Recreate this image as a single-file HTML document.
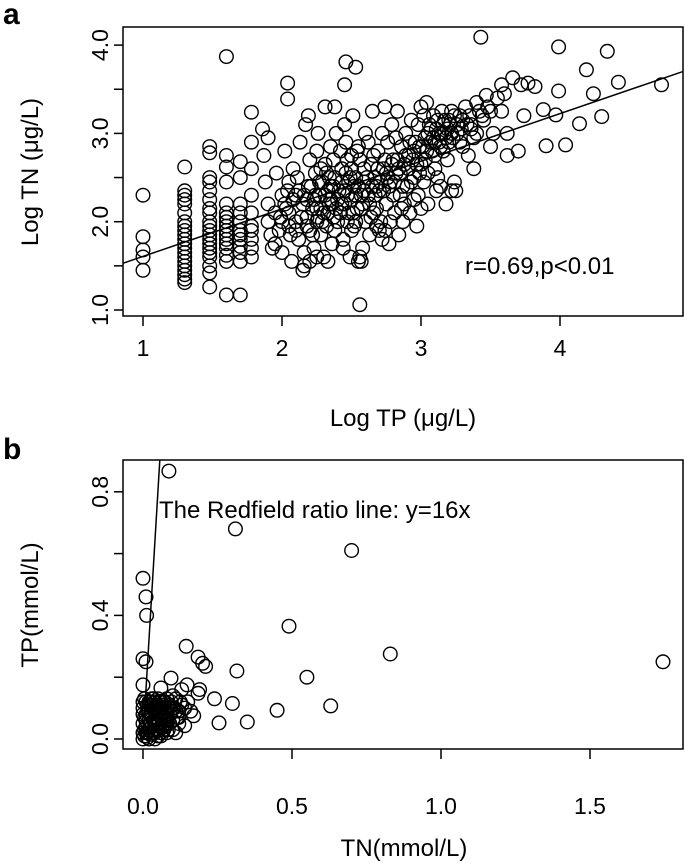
<!DOCTYPE html>
<html><head><meta charset="utf-8"><style>
html,body{margin:0;padding:0;background:#fff}
svg{display:block;font-family:"Liberation Sans",Arial,sans-serif}
</style></head><body>
<svg id="chart" width="685" height="868" viewBox="0 0 685 868">
<text x="3" y="24" font-size="30" font-weight="bold">a</text>
<text x="3" y="459" font-size="30" font-weight="bold">b</text>
<g id="pa"></g>
<g id="pb"></g>
<text x="465" y="274" font-size="24">r=0.69,p&lt;0.01</text>
<text x="403" y="426" font-size="24" text-anchor="middle">Log TP (μg/L)</text>
<text transform="translate(38,172) rotate(-90)" font-size="24" text-anchor="middle">Log TN (μg/L)</text>
<text x="159" y="518" font-size="24">The Redfield ratio line: y=16x</text>
<text x="404" y="856" font-size="24" text-anchor="middle">TN(mmol/L)</text>
<text transform="translate(38,605) rotate(-90)" font-size="24" text-anchor="middle">TP(mmol/L)</text>
</svg>
<script>
const aXTicks=[1,2,3,4];
const aXTickLabels=["1","2","3","4"];
const aYTicks=[1,1.5,2,2.5,3,3.5,4];
const aYTickLabels=["1.0","","2.0","","3.0","","4.0"];
const aFit=[1.068,0.539];
const aPoints=[[1,2.30],[1,1.83],[1,1.68],[1,1.60],[1,1.45],
[1.3,2.62],[1.3,2.35],[1.3,2.30],[1.3,2.25],[1.3,2.2],[1.3,2.1],[1.3,2.0],[1.3,1.95],[1.3,1.9],[1.3,1.85],[1.3,1.8],[1.3,1.75],[1.3,1.7],[1.3,1.65],[1.3,1.6],[1.3,1.55],[1.3,1.5],[1.3,1.45],[1.3,1.4],[1.3,1.35],[1.3,1.31],
[1.48,2.85],[1.48,2.78],[1.48,2.5],[1.48,2.45],[1.48,2.35],[1.48,2.25],[1.48,2.15],[1.48,2.1],[1.48,2.0],[1.48,1.95],[1.48,1.9],[1.48,1.85],[1.48,1.8],[1.48,1.75],[1.48,1.7],[1.48,1.65],[1.48,1.6],[1.48,1.5],[1.48,1.42],[1.48,1.26],
[1.6,3.87],[1.6,2.75],[1.6,2.62],[1.6,2.45],[1.6,2.2],[1.6,2.1],[1.6,2.05],[1.6,2.0],[1.6,1.95],[1.6,1.9],[1.6,1.85],[1.6,1.8],[1.6,1.75],[1.6,1.7],[1.6,1.62],[1.6,1.55],[1.6,1.17],
[1.7,2.68],[1.7,2.5],[1.7,2.2],[1.7,2.1],[1.7,2.0],[1.7,1.9],[1.7,1.85],[1.7,1.8],[1.7,1.72],[1.7,1.65],[1.7,1.55],[1.7,1.17],
[1.78,3.24],[1.78,2.9],[1.78,2.6],[1.78,2.3],[1.78,2.1],[1.78,1.95],[1.78,1.9],[1.78,1.8],[1.78,1.7],[1.78,1.6],
[1.87,2.75],[1.88,2.45],[1.9,2.2],[1.9,2.0],[1.92,1.85],[1.93,1.7],[1.95,2.1],[1.96,2.55],[1.98,1.9],[2.0,2.3],[2.0,1.65],[1.86,3.05],[1.9,2.95],[1.95,1.75],[1.99,2.05],
[2.02,2.8],[2.03,2.15],[2.05,1.95],[2.05,2.45],[2.07,1.55],[2.08,2.6],[2.1,2.0],[2.1,2.3],[2.12,1.8],[2.13,2.9],[2.04,3.57],[2.04,3.39],[2.15,2.2],[2.16,1.65],[2.17,3.1],[2.18,2.05],[2.19,2.4],[2.2,1.9],[2.2,2.7],[2.04,2.35],[2.06,1.85],[2.11,2.5],[2.15,1.45],[2.16,1.5],[2.18,2.25],[2.19,3.2],
[2.22,2.15],[2.23,1.7],[2.24,2.55],[2.25,2.0],[2.26,3.0],[2.27,2.3],[2.28,1.85],[2.29,2.45],[2.3,2.1],[2.31,3.3],[2.31,2.65],[2.32,1.95],[2.33,2.35],[2.34,2.2],[2.35,2.85],[2.36,1.75],[2.37,2.05],[2.38,2.5],[2.39,3.0],[2.4,2.25],[2.25,2.8],[2.28,2.15],[2.3,1.6],[2.33,1.55],[2.35,2.4],[2.37,2.7],[2.38,1.9],[2.4,2.0],[2.24,2.3],[2.26,2.05],[2.32,2.55],[2.36,2.2],[2.2,1.55],[2.25,1.6],[2.38,3.3],[2.46,3.81],[2.53,3.75],[2.45,3.55],
[2.42,2.1],[2.43,2.6],[2.44,1.8],[2.45,2.35],[2.46,2.9],[2.47,2.0],[2.48,2.45],[2.49,1.6],[2.5,2.25],[2.5,2.75],[2.51,3.2],[2.52,1.95],[2.53,2.5],[2.54,2.15],[2.55,1.55],[2.55,2.85],[2.56,1.06],[2.57,2.3],[2.58,1.7],[2.59,2.6],[2.6,2.0],[2.6,3.0],[2.43,2.2],[2.45,3.1],[2.47,2.7],[2.5,1.9],[2.52,2.4],[2.54,2.8],[2.56,1.6],[2.57,1.55],[2.58,2.2],[2.59,2.45],[2.44,1.7],[2.48,2.1],[2.53,2.0],[2.46,2.55],
[2.62,2.3],[2.63,1.85],[2.64,2.65],[2.65,3.25],[2.66,2.1],[2.67,2.5],[2.68,1.95],[2.69,2.8],[2.7,2.35],[2.71,2.0],[2.72,3.0],[2.73,2.6],[2.74,1.9],[2.75,2.2],[2.76,2.9],[2.77,1.75],[2.78,2.45],[2.79,3.1],[2.8,2.7],[2.81,2.1],[2.82,2.55],[2.83,3.25],[2.84,1.85],[2.85,2.3],[2.86,2.85],[2.87,2.0],[2.88,2.65],[2.89,3.0],[2.9,2.4],[2.64,2.05],[2.68,2.4],[2.72,1.8],[2.76,2.5],[2.8,2.3],[2.84,2.6],[2.88,2.2],[2.66,2.75],[2.7,1.9],[2.74,3.3],[2.78,2.0],
[2.91,2.75],[2.92,2.1],[2.93,3.15],[2.95,2.5],[2.96,2.9],[2.97,1.95],[2.98,2.3],[3.0,3.3],[3.0,2.65],[3.02,2.45],[3.03,2.95],[3.05,2.2],[3.06,3.1],[3.08,2.8],[3.09,3.2],[3.1,2.6],[3.11,2.35],[3.13,3.0],[3.14,2.85],[3.15,3.25],[3.16,3.1],[3.18,2.95],[3.19,2.7],[3.2,3.15],[3.04,3.35],[3.07,3.05],[3.12,3.15],[3.17,3.0],[3.2,2.9],[2.94,2.7],[2.99,2.85],[3.05,2.55],[3.1,2.9],[2.95,2.25],[3.0,2.15],[3.02,3.2],[3.12,2.5],[3.1,2.75],[3.14,2.4],[3.18,2.2],[3.22,2.35],[3.24,2.45],[3.25,2.35],
[3.22,3.0],[3.24,3.2],[3.26,3.1],[3.28,2.9],[3.3,3.15],[3.32,3.3],[3.34,2.75],[3.36,3.05],[3.38,2.6],[3.4,3.35],[3.42,3.25],[3.44,3.2],[3.47,3.43],[3.48,3.3],[3.5,2.85],[3.52,3.0],[3.55,3.4],[3.58,3.55],[3.6,3.45],[3.43,4.09],[3.36,3.1],[3.3,2.85],[3.28,3.2],[3.45,3.15],[3.5,3.25],[3.38,2.95],
[3.62,3.0],[3.66,3.63],[3.77,3.57],[3.82,3.53],[3.72,3.55],[3.74,3.2],[3.7,2.8],[3.88,3.27],[3.9,2.86],[3.99,3.98],[3.99,3.48],[4.04,2.87],[3.97,3.21],[4.14,3.11],[4.19,3.72],[4.24,3.45],[4.3,3.19],[4.34,3.93],[4.42,3.58],[4.73,3.55],[3.62,2.75],[3.58,3.25],
[2.05,2.1],[2.08,2.25],[2.1,1.9],[2.12,2.35],[2.14,2.05],[2.16,2.3],[2.18,1.95],[2.21,2.4],[2.23,2.25],[2.25,2.15],[2.27,2.45],[2.29,2.0],[2.31,2.3],[2.33,2.1],[2.35,2.25],[2.37,2.4],[2.39,2.15],[2.41,2.35],[2.43,2.45],[2.45,2.2],[2.47,2.3],[2.49,2.5],[2.51,2.1],[2.53,2.3],[2.55,2.4],[2.57,2.15],[2.59,2.35],[2.61,2.5],[2.63,2.2],[2.65,2.4],[2.67,2.3],[2.69,2.6],[2.71,2.45],[2.73,2.35],[2.75,2.55],[2.77,2.4],[2.79,2.65],[2.81,2.45],[2.83,2.7],[2.85,2.55],[2.87,2.4],[2.89,2.75],[2.91,2.6],[2.93,2.45],[2.95,2.8],[2.97,2.65],[2.99,2.55],[3.01,2.85],[3.03,2.7],[3.05,3.0],[3.07,2.9],[3.09,2.95],[3.11,3.05],[3.13,2.9],[3.15,3.0],[3.17,3.15],[3.19,3.05],[3.21,3.1],[3.23,2.95],[3.26,3.0],[3.29,3.05],[3.33,3.1],
[2.0,2.0],[2.02,2.2],[2.22,1.85],[2.28,2.6],[2.34,2.5],[2.42,2.8],[2.5,2.6],[2.56,2.7],[2.62,2.9],[2.68,2.15],[2.74,2.7],[2.82,2.95],[2.86,2.15],[2.92,2.9],[2.98,3.1],[3.04,2.8],[3.16,2.8],[3.22,3.25],[3.35,3.2],[3.4,3.0]];

const bXTicks=[0,0.5,1,1.5];
const bXTickLabels=["0.0","0.5","1.0","1.5"];
const bYTicks=[0,0.2,0.4,0.6,0.8];
const bYTickLabels=["0.0","","0.4","","0.8"];
const bRatio=16;
const bPoints=[[0.087,0.867],[0.31,0.68],[0.70,0.61],[0.0,0.52],[0.01,0.46],[0.012,0.40],[0.49,0.365],[0.145,0.30],[0.185,0.265],[0.20,0.245],[0.21,0.235],[0.83,0.275],[1.745,0.25],[0.0,0.26],[0.01,0.25],[0.315,0.22],[0.55,0.20],[0.24,0.13],[0.30,0.115],[0.45,0.093],[0.63,0.107],[0.35,0.055],[0.255,0.052],[0.17,0.075],[0.14,0.043],[0.094,0.197],[0.148,0.175],[0.19,0.16],[0.185,0.148],[0.13,0.16],[0.06,0.165],[0.0,0.175],
[0.0,0.0],[0.005,0.01],[0.01,0.02],[0.015,0.005],[0.02,0.03],[0.025,0.015],[0.03,0.04],[0.035,0.02],[0.04,0.06],[0.045,0.03],[0.05,0.08],[0.055,0.05],[0.06,0.1],[0.065,0.04],[0.07,0.12],[0.075,0.07],[0.08,0.09],[0.085,0.03],[0.09,0.11],[0.1,0.06],[0.11,0.13],[0.12,0.09],[0.13,0.11],[0.1,0.14],[0.0,0.05],[0.0,0.1],[0.005,0.13],[0.01,0.08],[0.015,0.11],[0.02,0.06],[0.025,0.12],[0.03,0.09],[0.035,0.13],[0.04,0.02],[0.045,0.1],[0.05,0.01],[0.055,0.12],[0.06,0.02],[0.065,0.08],[0.07,0.05],[0.075,0.1],[0.08,0.13],[0.085,0.06],[0.09,0.08],[0.095,0.12],[0.105,0.1],[0.115,0.07],[0.125,0.12],[0.14,0.1],[0.15,0.12],[0.16,0.09],[0.02,0.0],[0.04,0.0],[0.06,0.01],[0.08,0.02],[0.1,0.03],[0.03,0.07],[0.05,0.05],[0.07,0.03],[0.01,0.04],[0.0,0.02],[0.0,0.08],[0.12,0.05],[0.11,0.02],
[0.005,0.03],[0.01,0.06],[0.015,0.09],[0.02,0.12],[0.025,0.05],[0.03,0.11],[0.035,0.06],[0.04,0.1],[0.045,0.07],[0.05,0.11],[0.055,0.03],[0.06,0.07],[0.065,0.11],[0.07,0.09],[0.075,0.04],[0.08,0.06],[0.085,0.11],[0.09,0.05],[0.095,0.09],[0.01,0.12],[0.02,0.09],[0.03,0.02],[0.04,0.12],[0.05,0.03],[0.06,0.12],[0.015,0.02],[0.025,0.08],[0.035,0.1],[0.045,0.05],[0.055,0.09],[0.065,0.06],[0.075,0.12],[0.1,0.1],[0.11,0.09],[0.12,0.07],[0.005,0.07],[0.0,0.12],[0.03,0.13],[0.05,0.13],[0.07,0.07]];

const NS="http://www.w3.org/2000/svg";
function mk(tag,attrs,parent){const e=document.createElementNS(NS,tag);for(const k in attrs)e.setAttribute(k,attrs[k]);parent.appendChild(e);return e;}

function panel(g,cfg){
  const {L,R,T,B,x0,x1,y0,y1}=cfg;
  const sx=v=>L+(v-x0)/(x1-x0)*(R-L);
  const sy=v=>B-(v-y0)/(y1-y0)*(B-T);
  const clip=mk('clipPath',{id:cfg.id+'clip'},g);
  mk('rect',{x:L,y:T,width:R-L,height:B-T},clip);
  const pts=mk('g',{'clip-path':'url(#'+cfg.id+'clip)'},g);
  
  
  cfg.points.forEach(p=>{
    const c=mk('circle',{cx:sx(p[0]).toFixed(1),cy:sy(p[1]).toFixed(1),r:6.8,fill:'none',stroke:'#000','stroke-width':1.4},pts);
    
    
  });
  const ln=mk('line',{x1:sx(cfg.line[0][0]),y1:sy(cfg.line[0][1]),x2:sx(cfg.line[1][0]),y2:sy(cfg.line[1][1]),stroke:'#000','stroke-width':1.5},pts);
  
  
  const box=mk('rect',{x:L,y:T,width:R-L,height:B-T,fill:'none',stroke:'#000','stroke-width':1.5},g);
  
  
  cfg.xt.forEach((v,i)=>{
    const x=sx(v);
    const t=mk('line',{x1:x,y1:B,x2:x,y2:B+10,stroke:'#000','stroke-width':1.5},g);
    
    
    const tx=mk('text',{x:x,y:cfg.xtY,'font-size':23,'text-anchor':'middle'},g);
    tx.textContent=cfg.xl[i];
    
    
  });
  cfg.yt.forEach((v,i)=>{
    const y=sy(v);
    const t=mk('line',{x1:L-9,y1:y,x2:L,y2:y,stroke:'#000','stroke-width':1.5},g);
    
    
    if(cfg.yl[i]){
      const tx=mk('text',{x:0,y:0,'font-size':23,'text-anchor':'middle',transform:'translate(108,'+y+') rotate(-90)'},g);
      tx.textContent=cfg.yl[i];
      
      
    }
  });
}

panel(document.getElementById('pa'),{id:'panel-a',L:123,R:683,T:27,B:316,
  x0:1-20/139,x1:1+540/139,y0:1-6/88.3,y1:1+283/88.3,
  points:aPoints,
  line:[[0.5,aFit[0]+aFit[1]*0.5],[5.5,aFit[0]+aFit[1]*5.5]],
  xt:aXTicks,xl:aXTickLabels,yt:aYTicks,yl:aYTickLabels,xtY:356});
panel(document.getElementById('pb'),{id:'panel-b',L:123,R:683,T:460,B:749,
  x0:-20/298,x1:540/298,y0:-10/309,y1:279/309,
  points:bPoints,
  line:[[0,0],[1,bRatio]],
  xt:bXTicks,xl:bXTickLabels,yt:bYTicks,yl:bYTickLabels,xtY:814});
</script>
</body></html>
